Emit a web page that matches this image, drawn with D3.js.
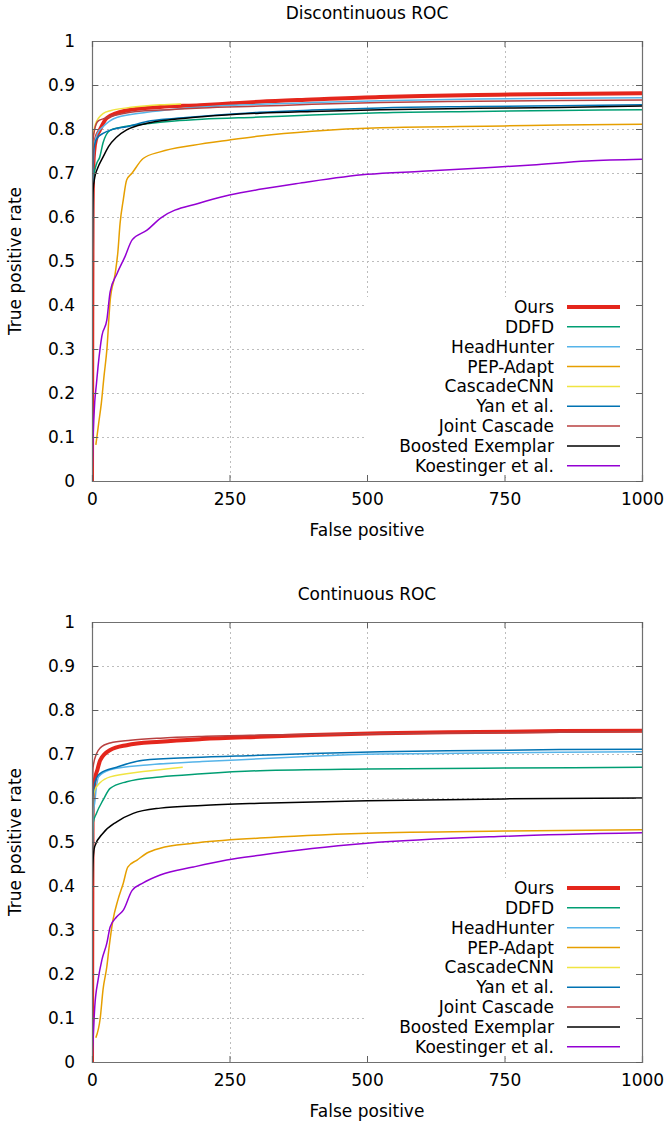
<!DOCTYPE html>
<html>
<head>
<meta charset="utf-8">
<script src="https://cdn.jsdelivr.net/npm/d3@7"></script>
<style>
  body { margin: 0; background: #fff; }
  svg { display: block; font-family: "DejaVu Sans", sans-serif; }
</style>
</head>
<body>
<div id="chart"></div>
<script>
// Series names and colours (legend order)
const names = ["Ours", "DDFD", "HeadHunter", "PEP-Adapt", "CascadeCNN", "Yan et al.", "Joint Cascade", "Boosted Exemplar", "Koestinger et al."];
const colors = ["#e4261c", "#009e73", "#56b4e9", "#e69f00", "#f0e442", "#0072b2", "#b84040", "#000000", "#9400d3"];

const xTicks = [0, 250, 500, 750, 1000];
const yTicks = [0, 0.1, 0.2, 0.3, 0.4, 0.5, 0.6, 0.7, 0.8, 0.9, 1];

// Discontinuous ROC, [false positives, true positive rate]
const discOurs = [[0,0],[0.5,0.36],[1,0.6],[2,0.7],[4,0.75],[8,0.78],[14,0.797],[27,0.825],[63,0.842],[124,0.85],[196,0.854],[250,0.858],[305,0.862],[400,0.867],[524,0.873],[600,0.875],[700,0.877],[800,0.879],[900,0.88],[1000,0.881]];
const discDDFD = [[0,0],[0.5,0.45],[1,0.62],[3,0.69],[8,0.72],[14,0.736],[20,0.768],[33,0.797],[63,0.806],[100,0.812],[150,0.818],[200,0.822],[305,0.827],[400,0.832],[524,0.837],[700,0.84],[850,0.842],[1000,0.844]];
const discHead = [[0,0],[0.5,0.5],[1,0.65],[3,0.74],[5,0.77],[10,0.79],[20,0.805],[45,0.826],[100,0.838],[150,0.845],[200,0.85],[305,0.856],[400,0.86],[524,0.864],[700,0.868],[850,0.87],[1000,0.871]];
const discPEP = [[7,0.082],[12,0.13],[17,0.177],[22,0.24],[27,0.298],[33,0.41],[42,0.47],[47,0.52],[51,0.585],[57,0.64],[63,0.684],[73,0.7],[93,0.733],[124,0.748],[184,0.763],[250,0.775],[305,0.784],[400,0.795],[524,0.803],[750,0.807],[850,0.809],[1000,0.811]];
const discCNN = [[0,0.52],[0.5,0.7],[1,0.757],[3,0.79],[6,0.81],[12,0.825],[20,0.835],[35,0.842],[63,0.848],[100,0.853],[124,0.855],[162,0.857]];
const discYan = [[0,0],[0.5,0.5],[1,0.66],[3,0.75],[6,0.77],[10,0.78],[20,0.79],[40,0.8],[63,0.805],[100,0.817],[150,0.824],[200,0.829],[305,0.838],[400,0.843],[524,0.848],[700,0.851],[850,0.853],[1000,0.855]];
const discJoint = [[0,0],[0.5,0.55],[1,0.72],[2,0.775],[5,0.8],[11,0.818],[20,0.823],[38,0.83],[70,0.838],[124,0.843],[200,0.848],[305,0.852],[400,0.856],[524,0.86],[700,0.863],[850,0.865],[1000,0.866]];
const discBoost = [[0,0],[0.3,0.5],[1,0.6],[2,0.66],[5,0.69],[10,0.71],[20,0.736],[30,0.76],[45,0.782],[63,0.798],[100,0.813],[150,0.822],[200,0.828],[305,0.836],[400,0.84],[524,0.844],[700,0.847],[850,0.849],[1000,0.852]];
const discKoest = [[0,0],[2,0.1],[5,0.18],[8,0.22],[11,0.26],[18,0.33],[27,0.366],[33,0.43],[45,0.47],[60,0.51],[73,0.548],[100,0.57],[124,0.597],[196,0.632],[250,0.65],[305,0.663],[378,0.677],[500,0.697],[600,0.704],[700,0.711],[800,0.718],[900,0.727],[1000,0.731]];

// Continuous ROC
const contOurs = [[0,0],[0.5,0.3],[1,0.55],[2,0.6],[5,0.64],[10,0.665],[15,0.686],[33,0.709],[63,0.72],[124,0.728],[200,0.734],[305,0.739],[400,0.743],[524,0.747],[700,0.75],[850,0.752],[1000,0.753]];
const contDDFD = [[0,0],[0.5,0.4],[2,0.543],[8,0.565],[20,0.595],[33,0.622],[63,0.637],[124,0.648],[200,0.655],[305,0.662],[500,0.666],[750,0.668],[1000,0.67]];
const contHead = [[0,0],[0.5,0.45],[2,0.56],[5,0.59],[8,0.625],[12,0.648],[33,0.664],[100,0.675],[200,0.683],[305,0.689],[400,0.695],[524,0.7],[700,0.702],[850,0.704],[1000,0.705]];
const contPEP = [[7,0.055],[15,0.1],[20,0.164],[27,0.217],[31,0.26],[38,0.322],[47,0.368],[57,0.407],[65,0.443],[82,0.459],[100,0.475],[124,0.486],[184,0.497],[305,0.509],[500,0.52],[750,0.525],[1000,0.528]];
const contCNN = [[0,0.45],[1,0.58],[5,0.618],[15,0.635],[33,0.648],[93,0.66],[165,0.67]];
const contYan = [[0,0],[0.5,0.45],[1,0.58],[3,0.62],[8,0.645],[15,0.656],[45,0.67],[93,0.686],[184,0.692],[305,0.697],[400,0.701],[524,0.705],[700,0.708],[850,0.71],[1000,0.711]];
const contJoint = [[0,0],[0.5,0.5],[1,0.62],[2,0.67],[8,0.7],[15,0.714],[33,0.725],[70,0.731],[124,0.736],[200,0.74],[305,0.743],[500,0.746],[700,0.748],[1000,0.751]];
const contBoost = [[0,0],[0.3,0.3],[0.5,0.39],[2,0.46],[5,0.49],[20,0.52],[45,0.546],[75,0.565],[124,0.577],[200,0.583],[305,0.588],[500,0.594],[750,0.598],[1000,0.6]];
const contKoest = [[0,0],[2,0.05],[5,0.125],[11,0.186],[18,0.232],[27,0.27],[33,0.307],[45,0.33],[57,0.345],[73,0.39],[93,0.407],[124,0.425],[184,0.443],[245,0.459],[305,0.47],[400,0.485],[500,0.497],[750,0.513],[1000,0.521]];

const panels = [
    { title: "Discontinuous ROC", top: 41, series: [discOurs, discDDFD, discHead, discPEP, discCNN, discYan, discJoint, discBoost, discKoest] },
    { title: "Continuous ROC", top: 622, series: [contOurs, contDDFD, contHead, contPEP, contCNN, contYan, contJoint, contBoost, contKoest] }
];

const width = 664, height = 1123;
const left = 92, right = 642, plotH = 440;
const fontSize = 17;

const svg = d3.select("#chart").append("svg")
    .attr("width", width)
    .attr("height", height);

const x = d3.scaleLinear().domain([0, 1000]).range([left, right]);

panels.forEach((p, pi) => {
    const bottom = p.top + plotH;
    const y = d3.scaleLinear().domain([0, 1]).range([bottom, p.top]);
    const g = svg.append("g");

    // title and axis labels
    g.append("text")
        .attr("x", (left + right) / 2).attr("y", p.top - 22)
        .attr("text-anchor", "middle").attr("font-size", fontSize)
        .text(p.title);
    g.append("text")
        .attr("x", (left + right) / 2).attr("y", bottom + 55)
        .attr("text-anchor", "middle").attr("font-size", fontSize)
        .text("False positive");
    g.append("text")
        .attr("transform", `translate(21,${(p.top + bottom) / 2}) rotate(-90)`)
        .attr("text-anchor", "middle").attr("font-size", fontSize)
        .text("True positive rate");

    // grid
    const grid = g.append("g")
        .attr("stroke", "#bdbdbd").attr("stroke-width", 1).attr("stroke-dasharray", "2,3");
    grid.selectAll(".gy").data(yTicks.slice(1, -1)).enter().append("line")
        .attr("x1", left).attr("x2", right)
        .attr("y1", d => Math.round(y(d)) + 0.5).attr("y2", d => Math.round(y(d)) + 0.5);
    grid.selectAll(".gx").data(xTicks.slice(1, -1)).enter().append("line")
        .attr("y1", p.top).attr("y2", bottom)
        .attr("x1", d => Math.round(x(d)) + 0.5).attr("x2", d => Math.round(x(d)) + 0.5);

    // key box hides the grid behind it
    g.append("rect")
        .attr("x", 364).attr("y", p.top + 256)
        .attr("width", right - 364).attr("height", 180)
        .attr("fill", "#fff");

    // curves
    const clipId = "clip" + pi;
    svg.append("clipPath").attr("id", clipId).append("rect")
        .attr("x", left).attr("y", p.top).attr("width", right - left).attr("height", plotH);

    const line = d3.line()
        .x(d => x(d[0]))
        .y(d => y(d[1]))
        .curve(d3.curveMonotoneX);

    g.append("g").attr("clip-path", `url(#${clipId})`)
        .selectAll("path").data(p.series).enter().append("path")
        .attr("d", line)
        .attr("fill", "none")
        .attr("stroke", (d, i) => colors[i])
        .attr("stroke-width", (d, i) => i === 0 ? 4 : 1.5)
        .attr("stroke-linejoin", "round");

    // axes with inward ticks on all sides
    const axL = g.append("g").attr("transform", `translate(${left},0)`)
        .call(d3.axisLeft(y).tickValues(yTicks).tickSize(-6).tickPadding(17).tickFormat(d => String(d)));
    const axB = g.append("g").attr("transform", `translate(0,${bottom})`)
        .call(d3.axisBottom(x).tickValues(xTicks).tickSize(-6).tickPadding(12).tickFormat(d => String(d)));
    const axR = g.append("g").attr("transform", `translate(${right},0)`)
        .call(d3.axisRight(y).tickValues(yTicks).tickSize(-6).tickFormat(""));
    const axT = g.append("g").attr("transform", `translate(0,${p.top})`)
        .call(d3.axisTop(x).tickValues(xTicks).tickSize(-6).tickFormat(""));

    [axL, axB, axR, axT].forEach(a => {
        a.selectAll(".domain").attr("stroke", "#707070").attr("stroke-width", 1.2);
        a.selectAll(".tick line").attr("stroke", "#606060");
        a.selectAll("text").attr("font-size", fontSize).attr("fill", "#000")
            .attr("font-family", "DejaVu Sans, sans-serif");
    });

    // key
    const key = g.append("g");
    names.forEach((n, i) => {
        const ky = p.top + 266 + i * 19.85;
        key.append("text")
            .attr("x", 554).attr("y", ky).attr("dy", "0.35em")
            .attr("text-anchor", "end").attr("font-size", fontSize)
            .text(n);
        key.append("line")
            .attr("x1", 567).attr("x2", 620)
            .attr("y1", ky).attr("y2", ky)
            .attr("stroke", colors[i])
            .attr("stroke-width", i === 0 ? 4 : 1.5);
    });
});
</script>
</body>
</html>
